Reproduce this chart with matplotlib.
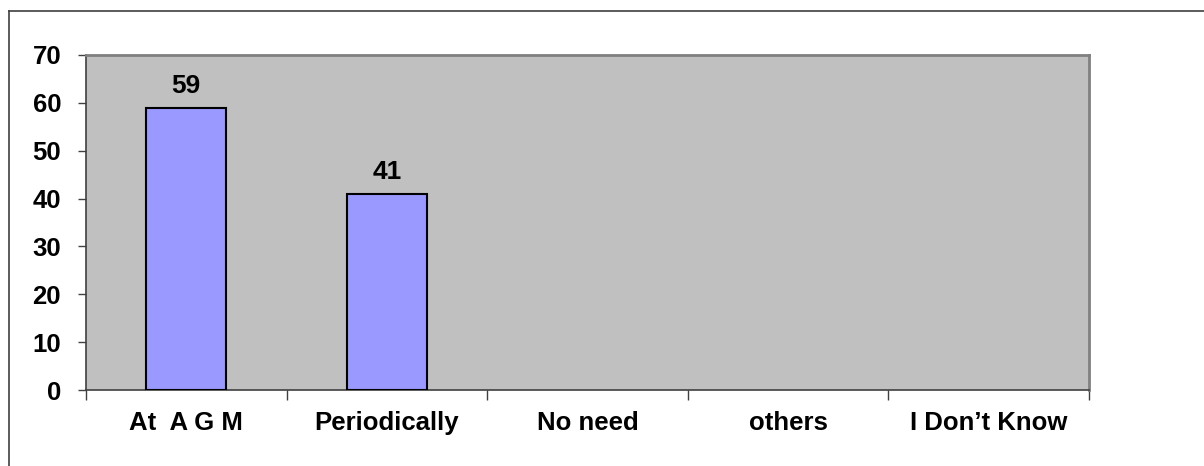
import matplotlib.pyplot as plt
from matplotlib.lines import Line2D

plt.rcParams['font.family'] = ['Liberation Sans', 'DejaVu Sans']
plt.rcParams['font.weight'] = 'bold'

# data
categories = ["At  A G M", "Periodically", "No need", "others", "I Don\u2019t Know"]
values = [59, 41, 0, 0, 0]
y_ticks = [0, 10, 20, 30, 40, 50, 60, 70]

fig = plt.figure(figsize=(12.04, 4.66), dpi=100)
ax = fig.add_axes([86 / 1204, 1 - 390 / 466, (1089 - 86) / 1204, (390 - 55) / 466])
ax.set_facecolor("#C0C0C0")

x = list(range(len(categories)))
bars = ax.bar(x, values, width=0.4, color="#9999FF", edgecolor="black", linewidth=1.5, zorder=3)
# empty bars leave no outline on the axis
for b, v in zip(bars, values):
    if v == 0:
        b.set_linewidth(0)

# value labels on non-zero bars
for xi, v in zip(x, values):
    if v > 0:
        ax.annotate(str(v), (xi, v), xytext=(0, 7), textcoords="offset points",
                    ha="center", va="bottom", fontsize=19, fontweight="bold")

ax.set_xlim(-0.5, len(categories) - 0.5)
ax.set_ylim(0, 70)
ax.set_yticks(y_ticks)
ax.set_yticklabels([str(t) for t in y_ticks], fontsize=18.5, fontweight="bold")
ax.tick_params(axis="y", length=6, width=1, color="#404040", pad=12)

# category labels centred, ticks between categories
ax.set_xticks(x)
ax.set_xticklabels(categories, fontsize=18.5, fontweight="bold")
ax.tick_params(axis="x", length=0, pad=15)
ax.set_xticks([i - 0.5 for i in range(len(categories) + 1)], minor=True)
ax.tick_params(axis="x", which="minor", length=7, width=1, color="#404040")

for s in ["top", "right"]:
    ax.spines[s].set_color("#808080")
    ax.spines[s].set_linewidth(2)
for s in ["left", "bottom"]:
    ax.spines[s].set_color("#404040")
    ax.spines[s].set_linewidth(1.2)

# outer chart border (only left and top edges are visible in the frame)
fig.add_artist(Line2D([9 / 1204, 9 / 1204], [0, 1 - 11 / 466], transform=fig.transFigure,
                      color="#404040", linewidth=1.2))
fig.add_artist(Line2D([9 / 1204, 1], [1 - 11 / 466, 1 - 11 / 466], transform=fig.transFigure,
                      color="#404040", linewidth=1.2))

plt.savefig("out.png", dpi=100)
